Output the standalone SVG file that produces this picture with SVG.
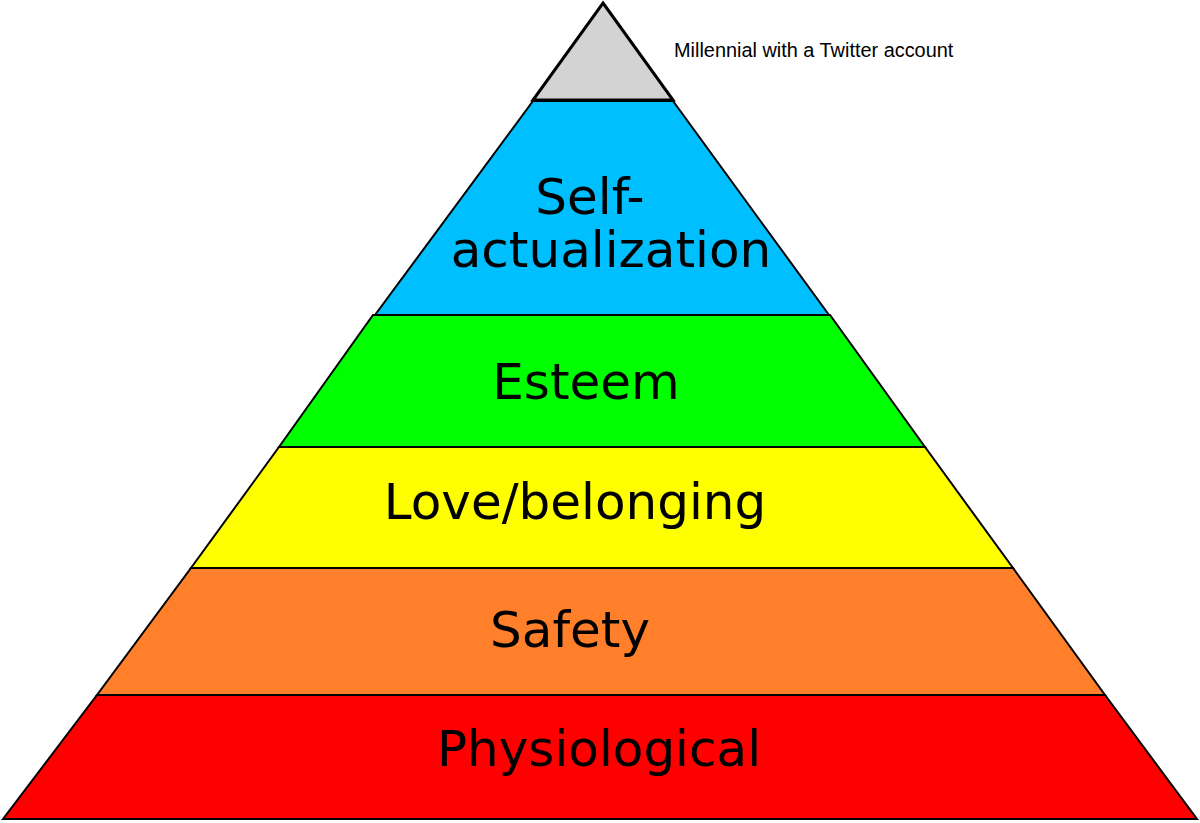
<svg xmlns="http://www.w3.org/2000/svg" width="1200" height="823" viewBox="0 0 1200 823">
<style>
.tier{stroke:#000;stroke-width:2;stroke-linejoin:miter}
.lbl{font-family:"DejaVu Sans",sans-serif;font-size:50px;fill:#000;text-anchor:middle}
.note{font-family:"Liberation Sans",Arial,sans-serif;font-size:19.9px;fill:#000}
</style>
<rect width="1200" height="823" fill="#fff"/>
<g id="physiological">
<polygon class="tier" fill="#ff0000" points="97,695 1105,695 1197,819 3,819"/>
<text class="lbl" x="599" y="766">Physiological</text>
</g>
<g id="safety">
<polygon class="tier" fill="#ff7f2a" points="191,568 1013,568 1105,695 97,695"/>
<text class="lbl" x="570" y="647">Safety</text>
</g>
<g id="love">
<polygon class="tier" fill="#ffff00" points="279,447 925,447 1013,568 191,568"/>
<text class="lbl" x="575" y="519">Love/belonging</text>
</g>
<g id="esteem">
<polygon class="tier" fill="#00ff00" points="373,315 830,315 925,447 279,447"/>
<text class="lbl" x="586" y="399">Esteem</text>
</g>
<g id="self-actualization">
<polygon class="tier" fill="#00bfff" points="533,101 673,101 829,315 375,315"/>
<text class="lbl" x="590" y="214">Self-</text>
<text class="lbl" x="611" y="267">actualization</text>
</g>
<g id="millennial">
<polygon fill="#d3d3d3" stroke="#000" stroke-width="3" stroke-linejoin="miter" points="603,3 673,100 533,100"/>
<text class="note" x="674" y="57">Millennial with a Twitter account</text>
</g>
</svg>
